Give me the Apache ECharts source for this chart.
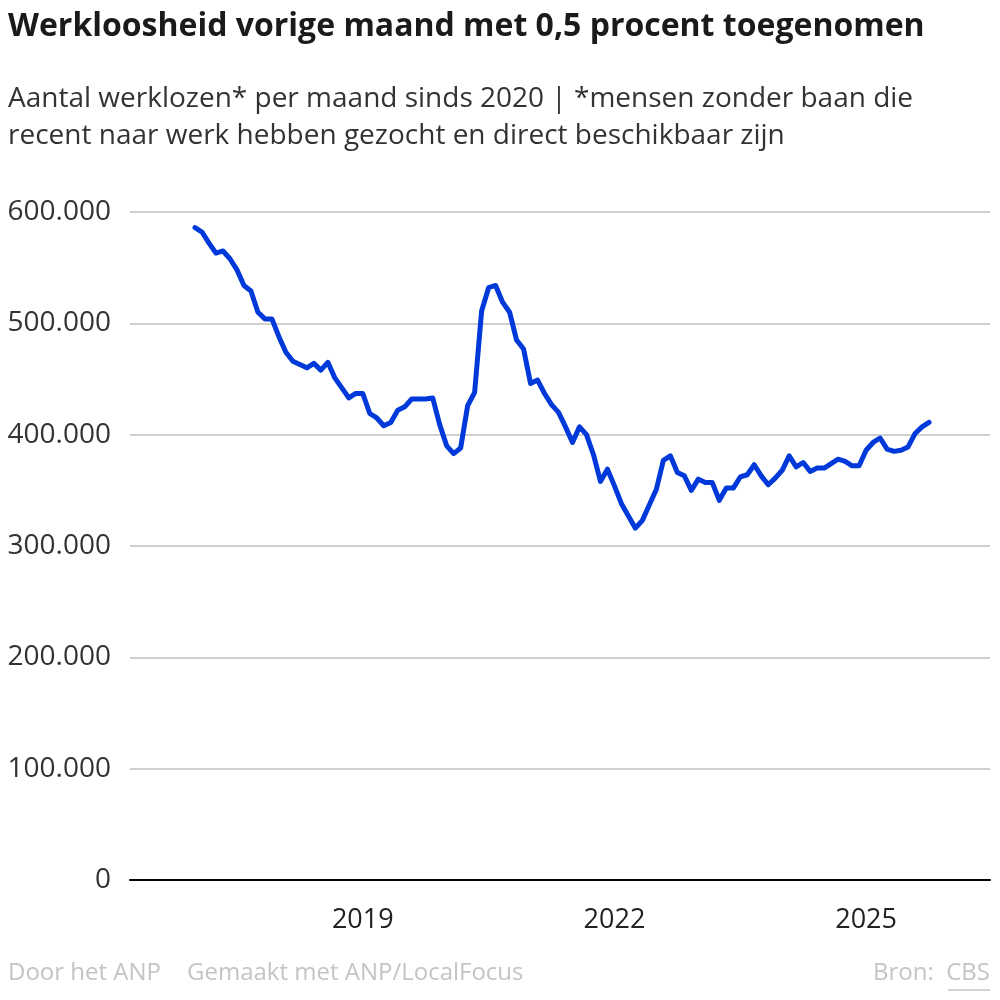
<!DOCTYPE html>
<html>
<head>
<meta charset="utf-8">
<script src="https://cdn.jsdelivr.net/npm/echarts@6/dist/echarts.min.js"></script>
<style>
html,body{margin:0;padding:0;background:#fff;}
#chart{width:1000px;height:1000px;}
</style>
</head>
<body>
<div id="chart"></div>
<script>
// Data
const startYear = 2017; // first month: January 2017
const werklozen = [
  586000, 582000, 572000, 563000, 565000, 558000, 548000, 534000, 529000, 510000, 504000, 504000,
  488000, 474000, 466000, 463000, 460000, 464000, 458000, 465000, 451000, 442000, 433000, 437000,
  437000, 419000, 415000, 408000, 411000, 422000, 425000, 432000, 432000, 432000, 433000, 409000,
  390000, 383000, 388000, 426000, 438000, 511000, 532000, 534000, 519000, 510000, 485000, 477000,
  446000, 449000, 437000, 427000, 420000, 407000, 393000, 407000, 400000, 382000, 358000, 369000,
  354000, 338000, 327000, 316000, 323000, 337000, 351000, 377000, 381000, 366000, 363000, 350000,
  360000, 357000, 357000, 341000, 352000, 352000, 362000, 364000, 373000, 363000, 355000, 361000,
  368000, 381000, 371000, 375000, 367000, 370000, 370000, 374000, 378000, 376000, 372000, 372000,
  386000, 393000, 397000, 387000, 385000, 386000, 389000, 401000, 407000, 411000
];
const xTickLabels = [2019, 2022, 2025];

const titleText = 'Werkloosheid vorige maand met 0,5 procent toegenomen';
const subtitleLines = [
  'Aantal werklozen* per maand sinds 2020 | *mensen zonder baan die',
  'recent naar werk hebben gezocht en direct beschikbaar zijn'
];

const seriesData = werklozen.map((v, i) => [startYear + i / 12, v]);

function fmtNum(v) {
  if (v === 0) return '0';
  const s = String(Math.round(v));
  return s.replace(/\B(?=(\d{3})+(?!\d))/g, '.');
}

const FONT = '"Open Sans", "Noto Sans", sans-serif';
const FOOT = '#c4c4c4';
const chart = echarts.init(document.getElementById('chart'), null, {renderer: 'canvas'});
chart.setOption({
  animation: false,
  backgroundColor: '#ffffff',
  textStyle: {fontFamily: FONT},
  grid: {left: 130, right: 10, top: 212, bottom: 120, containLabel: false},
  graphic: [
    {type: 'text', left: 8, top: 11, style: {text: titleText, fontFamily: FONT, fontSize: 32, fontWeight: 'bold', fill: '#1a1a1a'}},
    {type: 'text', left: 8, top: 81, style: {text: subtitleLines.join('\n'), fontFamily: FONT, fontSize: 28, lineHeight: 37, fill: '#333333'}},
    {type: 'text', left: 8, top: 961, style: {text: 'Door het ANP', fontFamily: FONT, fontSize: 24, fill: FOOT}},
    {type: 'text', left: 187, top: 961, style: {text: 'Gemaakt met ANP/LocalFocus', fontFamily: FONT, fontSize: 24, fill: FOOT}},
    {type: 'text', right: 10, top: 961, style: {text: 'Bron:  CBS', fontFamily: FONT, fontSize: 24, fill: FOOT}},
    {type: 'line', shape: {x1: 948, y1: 990, x2: 990, y2: 990}, style: {stroke: FOOT, lineWidth: 1.5}}
  ],
  xAxis: {
    type: 'value',
    min: 2016.225,
    max: 2026.477,
    axisLine: {show: true, onZero: false, lineStyle: {color: '#000', width: 2}},
    axisTick: {show: false},
    splitLine: {show: false},
    axisLabel: {
      customValues: xTickLabels,
      fontSize: 27,
      color: '#222',
      margin: 27,
      fontFamily: FONT,
      formatter: v => String(Math.round(v))
    }
  },
  yAxis: {
    type: 'value',
    min: 0,
    max: 600000,
    interval: 100000,
    axisLine: {show: false},
    axisTick: {show: false},
    splitLine: {show: true, lineStyle: {color: '#cfcfcf', width: 2}},
    axisLabel: {
      fontSize: 28,
      color: '#333',
      margin: 19,
      fontFamily: FONT,
      formatter: v => fmtNum(v)
    }
  },
  series: [{
    type: 'line',
    data: seriesData,
    showSymbol: false,
    symbol: 'none',
    lineStyle: {color: '#0039d9', width: 5, cap: 'round', join: 'round'},
    z: 5
  }]
});
</script>
</body>
</html>
